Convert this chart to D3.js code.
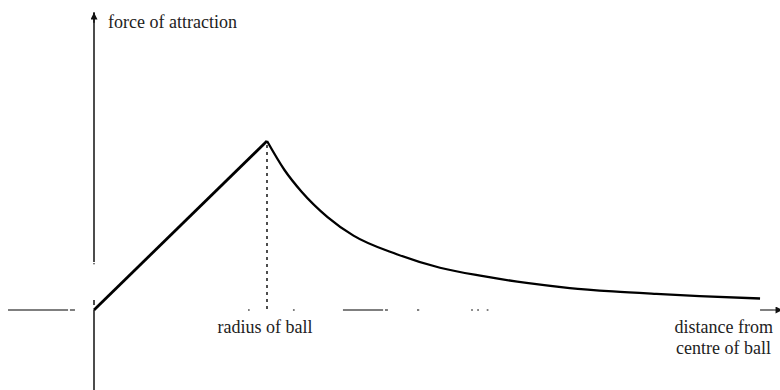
<!DOCTYPE html>
<html>
<head>
<meta charset="utf-8">
<script src="https://cdn.jsdelivr.net/npm/d3@7"></script>
<style>
  html, body { margin: 0; padding: 0; background: #fff; }
  svg { display: block; }
  text { font-family: "Liberation Serif", "DejaVu Serif", serif; fill: #222; }
</style>
</head>
<body>
<svg id="chart" width="780" height="390"></svg>
<script>
// Distance from the centre, in units of the ball's radius
const distance = [0, 1, 1.1, 1.2, 1.35, 1.5, 1.75, 2, 2.25, 2.5, 2.75, 3, 3.25, 3.5, 3.85];
// Force of attraction, as a fraction of its value at the surface
const force    = [0, 1, 0.83, 0.70, 0.55, 0.44, 0.33, 0.25, 0.20, 0.16, 0.13, 0.11, 0.095, 0.082, 0.068];

// Axis labels
const yLabel = "force of attraction";
const xLabel = ["distance from", "centre of ball"];
const markLabel = "radius of ball";
const surfaceDistance = 1;

// Visible pieces of the (faint, broken) horizontal baseline, in distance units
const baselinePieces = [[-0.497, -0.150], [-0.139, -0.110], [0.89, 0.90], [1.15, 1.16],
                        [1.439, 1.671], [1.682, 1.699], [1.867, 1.88],
                        [2.18, 2.19], [2.215, 2.225], [2.27, 2.28], [3.85, 3.93]];
// Visible pieces of the vertical axis, in force units
const yAxisPieces = [[0.284, 1.76], [0.270, 0.276], [0.030, 0.059], [-0.473, 0]];

const svg = d3.select("#chart");

const x = d3.scaleLinear().domain([0, 1]).range([94, 267]);
const y = d3.scaleLinear().domain([0, 1]).range([310, 141]);

// Arrowheads
const defs = svg.append("defs");
defs.append("marker")
  .attr("id", "arrow")
  .attr("viewBox", "0 0 10 10")
  .attr("refX", 10).attr("refY", 5)
  .attr("markerWidth", 8).attr("markerHeight", 7)
  .attr("markerUnits", "userSpaceOnUse")
  .attr("orient", "auto")
  .append("path").attr("d", "M0,0 L10,5 L0,10 Z").attr("fill", "#111");

// Baseline pieces
svg.append("g").selectAll("line").data(baselinePieces).join("line")
  .attr("x1", d => x(d[0])).attr("x2", d => x(d[1]))
  .attr("y1", y(0)).attr("y2", y(0))
  .attr("stroke", "#555").attr("stroke-width", 1.5);

// Arrow at the right end of the baseline
svg.append("line")
  .attr("x1", x(3.93)).attr("x2", x(3.98))
  .attr("y1", y(0)).attr("y2", y(0))
  .attr("stroke", "#111").attr("stroke-width", 1)
  .attr("marker-end", "url(#arrow)");

// Vertical axis pieces
svg.append("g").selectAll("line").data(yAxisPieces).join("line")
  .attr("x1", x(0)).attr("x2", x(0))
  .attr("y1", d => y(d[0])).attr("y2", d => y(d[1]))
  .attr("stroke", "#111").attr("stroke-width", 1.5);

// Arrow at the top of the vertical axis
svg.append("line")
  .attr("x1", x(0)).attr("x2", x(0))
  .attr("y1", y(1.70)).attr("y2", y(1.76))
  .attr("stroke", "#111").attr("stroke-width", 1.5)
  .attr("marker-end", "url(#arrow)");

// Dotted line down from the surface of the ball
svg.append("line")
  .attr("x1", x(surfaceDistance)).attr("x2", x(surfaceDistance))
  .attr("y1", y(1) + 4).attr("y2", y(0))
  .attr("stroke", "#222").attr("stroke-width", 1.6)
  .attr("stroke-dasharray", "3,4");

// Force curve: linear inside the ball, falling away outside
const inside = distance.map((d, i) => [d, force[i]]).filter(p => p[0] <= surfaceDistance);
const outside = distance.map((d, i) => [d, force[i]]).filter(p => p[0] >= surfaceDistance);

const lineGen = d3.line().x(p => x(p[0])).y(p => y(p[1]));

svg.append("path")
  .attr("d", lineGen(inside))
  .attr("fill", "none").attr("stroke", "#000").attr("stroke-width", 2.8)
  .attr("stroke-linejoin", "miter");

svg.append("path")
  .attr("d", lineGen.curve(d3.curveMonotoneX)(outside))
  .attr("fill", "none").attr("stroke", "#000").attr("stroke-width", 2.3);

// Labels
svg.append("text")
  .attr("x", 108).attr("y", 28)
  .attr("font-size", 18)
  .text(yLabel);

svg.append("text")
  .attr("x", x(surfaceDistance) - 2).attr("y", 333)
  .attr("text-anchor", "middle")
  .attr("font-size", 18)
  .text(markLabel);

svg.append("g").selectAll("text").data(xLabel).join("text")
  .attr("x", (d, i) => i === 0 ? 773 : 771).attr("y", (d, i) => 333 + i * 21)
  .attr("text-anchor", "end")
  .attr("font-size", 18)
  .text(d => d);
</script>
</body>
</html>
